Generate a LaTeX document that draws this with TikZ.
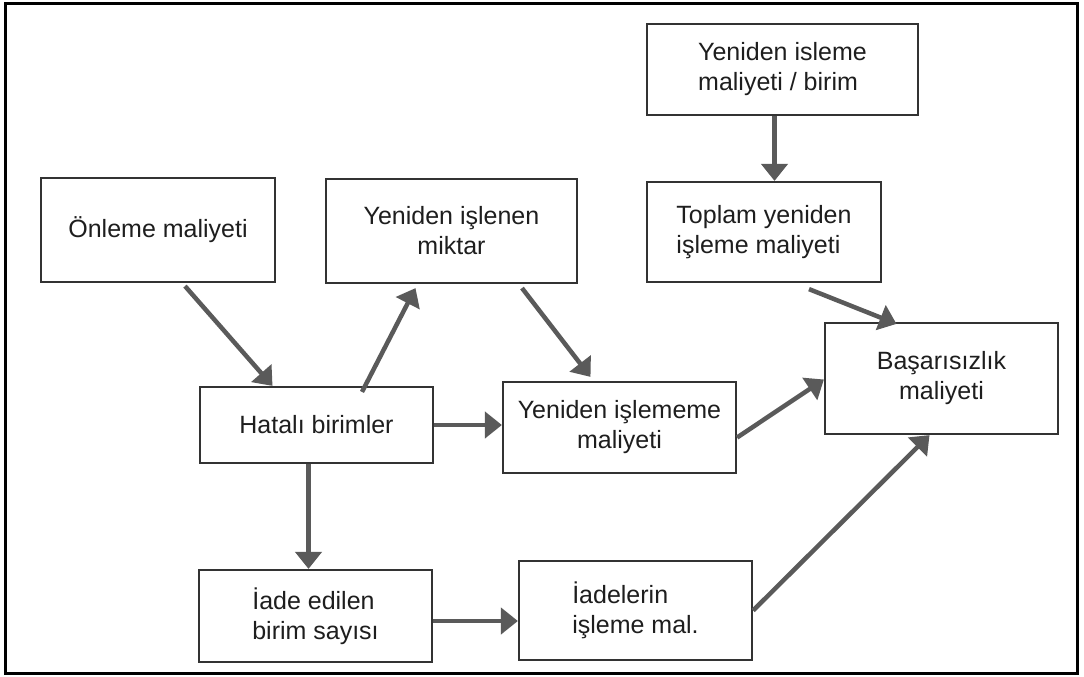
\documentclass[tikz,border=0pt]{standalone}
\usepackage{fontspec}
\setmainfont{Liberation Sans}
\usetikzlibrary{arrows.meta}
\definecolor{boxline}{HTML}{333333}
\definecolor{arrowgray}{HTML}{5A5A5A}
\definecolor{ink}{HTML}{1E1E1E}
\begin{document}
\begin{tikzpicture}[x=1pt,y=-1pt,
  box/.style={draw=boxline, line width=2.2pt, fill=white, text=ink, inner sep=0pt,
    font=\fontsize{25}{30}\selectfont},
  flow/.style={draw=arrowgray, line width=4.5pt,
    -{Triangle[length=17pt,width=26pt]}}]
\useasboundingbox (0,0) rectangle (1084,677);
\fill[white] (0,0) rectangle (1084,677);
% outer frame
\draw[black, line width=3pt] (5.5,3.5) rectangle (1077.5,673);

% cost boxes
\node[box, minimum width=234pt, minimum height=104pt] (onl) at (158,230) {Önleme maliyeti};
\node[box, minimum width=251pt, minimum height=104pt, align=center] (yim) at (451.5,231) {Yeniden işlenen\\miktar};
\node[box, minimum width=271pt, minimum height=91pt, align=left] (yib) at (782.5,69.5) {Yeniden isleme\\maliyeti / birim};
\node[box, minimum width=234pt, minimum height=100pt, align=left] (top) at (764,232) {Toplam yeniden\\işleme maliyeti};
\node[box, minimum width=233pt, minimum height=111pt, align=center] (bas) at (941.5,378.5) {Başarısızlık\\maliyeti};
\node[box, minimum width=233pt, minimum height=76pt] (hat) at (316.5,425) {Hatalı birimler};
\node[box, minimum width=233pt, minimum height=91pt, align=center] (yim2) at (619.5,427.5) {Yeniden işlememe\\maliyeti};
\node[box, minimum width=233pt, minimum height=92pt, align=left] (iade) at (315.5,616) {İade edilen\\birim sayısı};
\node[box, minimum width=233pt, minimum height=99pt, align=left] (iml) at (635.5,610.5) {İadelerin\\işleme mal.};

% connectors
\draw[flow] ([xshift=27pt,yshift=-3pt]onl.south) -- ([xshift=-44pt]hat.north);
\draw[flow] ([xshift=45.5pt,yshift=-6pt]hat.north) -- ([xshift=-36pt,yshift=-4pt]yim.south);
\draw[flow] ([xshift=70.5pt,yshift=-4pt]yim.south) -- ([xshift=-29pt,yshift=4pt]yim2.north);
\draw[flow] (hat.east) -- (hat.east -| yim2.west);
\draw[flow] ([xshift=-8pt]hat.south) -- ([xshift=-8pt]hat.south |- iade.north);
\draw[flow] ([yshift=-5pt]iade.east) -- ([yshift=-5pt]iade.east -| iml.west);
\draw[flow] ([yshift=-10pt]yim2.east) -- ([yshift=-1pt]bas.west);
\draw[flow] (iml.east) -- ([xshift=-12pt]bas.south);
\draw[flow] ([xshift=45pt,yshift=-6pt]top.south) -- ([xshift=-45pt,yshift=-2pt]bas.north);
\draw[flow] ([xshift=-8pt]yib.south) -- ([xshift=-8pt]yib.south |- top.north);
\end{tikzpicture}
\end{document}
